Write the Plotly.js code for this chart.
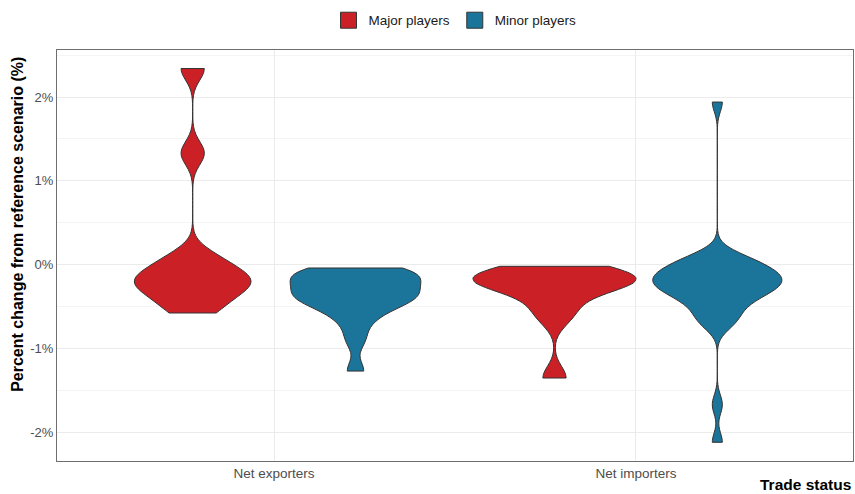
<!DOCTYPE html>
<html>
<head>
<meta charset="utf-8">
<script src="https://cdn.plot.ly/plotly-3.0.1.min.js"></script>
<style>
  html, body { margin: 0; padding: 0; background: #ffffff; }
  #chart { width: 855px; height: 494px; }
</style>
</head>
<body>
<div id="chart"></div>
<script>
// Trade status groups on the x axis
const tradeStatus = ['Net exporters', 'Net importers'];
const seriesNames = ['Major players', 'Minor players'];

// Percent change from the reference scenario, one value per country
const majorExporters = [2.34, 1.33, 0.10, 0.00, -0.12, -0.16, -0.21, -0.26, -0.34, -0.45, -0.577];
const majorImporters = [-0.02, -0.09, -0.12, -0.15, -0.18, -0.21, -0.24, -0.28, -0.47, -0.63, -1.353];
const minorExporters = [-0.04, -0.07, -0.09, -0.11, -0.13, -0.15, -0.20, -0.27, -0.30, -0.33,
                        -0.36, -0.39, -0.42, -0.46, -0.50, -0.58, -0.70, -0.90, -1.27];
const minorImporters = [1.94, 0.12, 0.08, 0.05, 0.02, -0.01, -0.04, -0.07, -0.09, -0.11,
                        -0.13, -0.15, -0.17, -0.19, -0.21, -0.23, -0.25, -0.27, -0.29, -0.31,
                        -0.34, -0.37, -0.40, -0.44, -0.49, -0.56, -0.62, -0.68, -0.73, -1.67, -2.12];

// Kernel bandwidths used for the density outlines
const bandwidths = [0.14, 0.115];
const fills = ['#CC2027', '#1B7499'];
const outline = '#333333';

// y axis ticks
const yTickVals = [-2, -1, 0, 1, 2];
const yTickText = ['-2%', '-1%', '0%', '1%', '2%'];

function labelsFor(values, label) {
  return values.map(() => label);
}

function violinTrace(i, exp, imp) {
  return {
    type: 'violin',
    name: seriesNames[i],
    legendgroup: seriesNames[i],
    showlegend: false,
    x: labelsFor(exp, tradeStatus[0]).concat(labelsFor(imp, tradeStatus[1])),
    y: exp.concat(imp),
    bandwidth: bandwidths[i],
    spanmode: 'hard',
    scalemode: 'width',
    scalegroup: 'all',
    points: false,
    box: { visible: false },
    meanline: { visible: false },
    fillcolor: fills[i],
    line: { color: outline, width: 1 },
    opacity: 1,
    hoverinfo: 'skip'
  };
}

// Square swatches for the legend keys (no data of their own)
function legendKey(i) {
  return {
    type: 'scatter',
    mode: 'markers',
    name: seriesNames[i],
    legendgroup: seriesNames[i],
    x: [null], y: [null],
    marker: { symbol: 'square', size: 16, color: fills[i], line: { color: outline, width: 1 } },
    hoverinfo: 'skip'
  };
}

const data = [
  violinTrace(0, majorExporters, majorImporters),
  violinTrace(1, minorExporters, minorImporters),
  legendKey(0),
  legendKey(1)
];

const fontFamily = 'Liberation Sans, Arial, Helvetica, sans-serif';

const layout = {
  width: 855,
  height: 494,
  margin: { l: 57, r: 2, t: 50, b: 33 },
  paper_bgcolor: '#ffffff',
  plot_bgcolor: '#ffffff',
  font: { family: fontFamily, color: '#4d4d4d', size: 12 },
  violinmode: 'group',
  violingap: 0.1,
  violingroupgap: 0,
  showlegend: true,
  legend: {
    orientation: 'h',
    x: 0.5, xanchor: 'center', xref: 'paper',
    y: 0.99, yanchor: 'top', yref: 'container',
    font: { family: fontFamily, size: 13.5, color: '#1a1a1a' },
    traceorder: 'normal',
    itemwidth: 30
  },
  xaxis: {
    type: 'category',
    categoryorder: 'array',
    categoryarray: tradeStatus,
    range: [-0.6, 1.6],
    showgrid: true,
    gridcolor: '#ebebeb',
    gridwidth: 1,
    zeroline: false,
    showline: true,
    mirror: true,
    linecolor: '#6e6e6e',
    linewidth: 1,
    ticks: '',
    tickfont: { family: fontFamily, size: 13.5, color: '#4d4d4d' },
    fixedrange: true
  },
  yaxis: {
    range: [-2.343, 2.561],
    tickvals: yTickVals,
    ticktext: yTickText,
    showgrid: true,
    gridcolor: '#ebebeb',
    gridwidth: 1,
    minor: { dtick: 0.5, showgrid: true, gridcolor: '#f4f4f4', gridwidth: 1 },
    zeroline: false,
    showline: true,
    mirror: true,
    linecolor: '#6e6e6e',
    linewidth: 1,
    ticks: '',
    tickfont: { family: fontFamily, size: 13, color: '#4d4d4d' },
    automargin: false,
    fixedrange: true
  },
  annotations: [
    {
      text: '<b>Percent change from reference scenario (%)</b>',
      xref: 'paper', yref: 'paper',
      x: -0.049, xanchor: 'center',
      y: 0.577, yanchor: 'middle',
      textangle: -90,
      showarrow: false,
      font: { family: fontFamily, size: 16, color: '#000000' }
    },
    {
      text: '<b>Trade status</b>',
      xref: 'paper', yref: 'paper',
      x: 1.0, xanchor: 'right',
      y: -0.058, yanchor: 'middle',
      showarrow: false,
      font: { family: fontFamily, size: 15.5, color: '#000000' }
    }
  ]
};

Plotly.newPlot('chart', data, layout, { displayModeBar: false, staticPlot: true });
</script>
</body>
</html>
